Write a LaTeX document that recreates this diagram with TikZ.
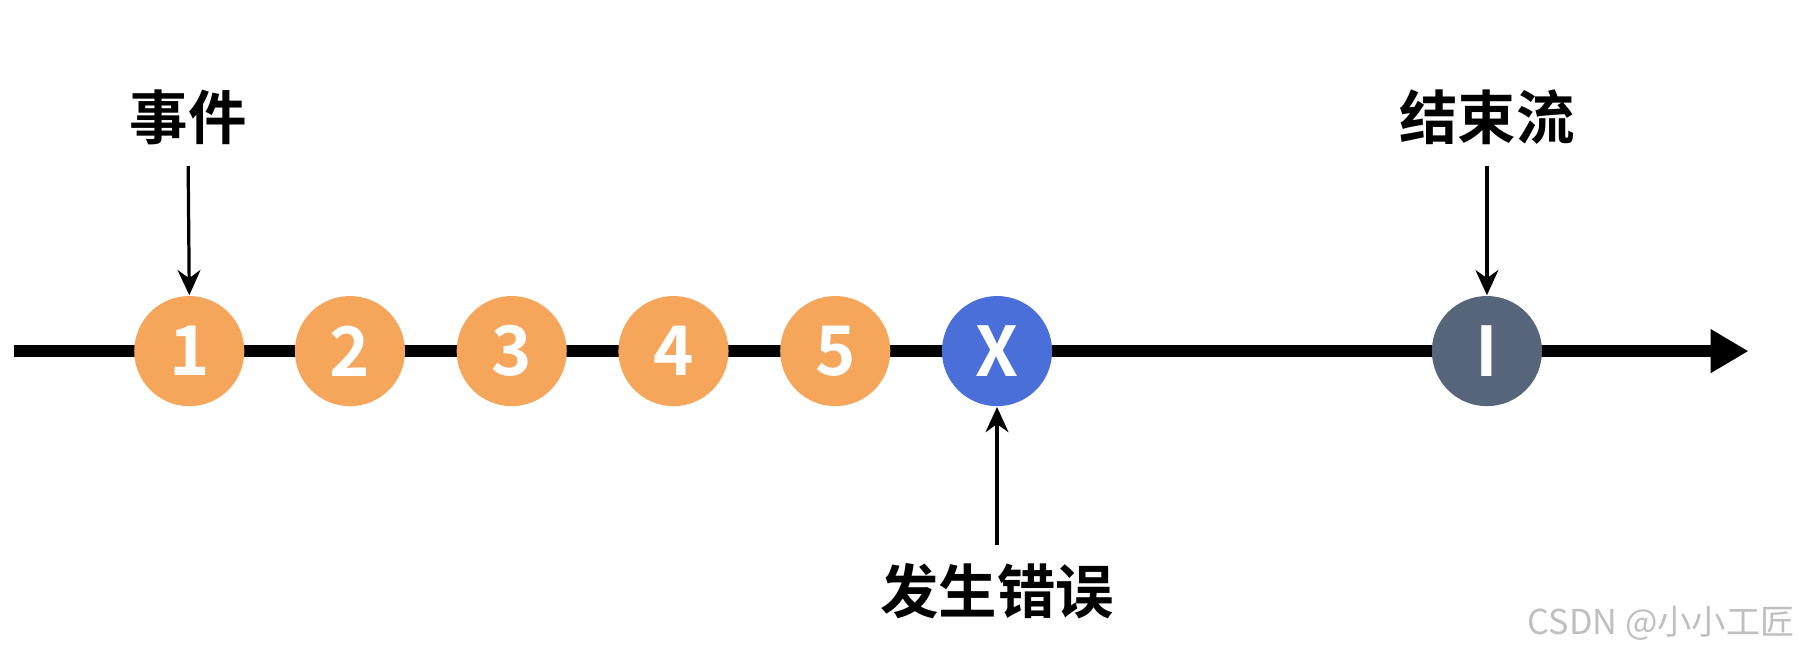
\documentclass[tikz,border=0pt]{standalone}
\usepackage{fontspec}
\setmainfont{Noto Sans CJK SC}[BoldFont={Noto Sans CJK SC Bold}]
\usetikzlibrary{positioning,arrows.meta}
\definecolor{evorange}{HTML}{F5A65B}
\definecolor{everr}{HTML}{4A6FD8}
\definecolor{evend}{HTML}{56657A}
\tikzstyle{evdot}=[circle, minimum size=9.6mm, inner sep=0pt, text=white,
                   font=\fontsize{17}{17}\selectfont\bfseries]
\tikzstyle{evlbl}=[font=\fontsize{14.5}{15}\selectfont\bfseries, inner sep=0pt]
\tikzstyle{pline}=[-{Stealth[length=2.2mm,width=2mm]}, thick]
\begin{document}
\begin{tikzpicture}[x=0.1mm, y=-0.1mm]
\useasboundingbox (0,0) rectangle (1568,570);

\coordinate (START) at (12,306);
\coordinate (END) at (1524,306);
\draw[line width=1mm, -{Triangle[length=3.3mm,width=3.6mm]}] (START) -- (END);

\foreach \i/\x in {1/165,2/305,3/446,4/587,5/728}
  \node (E\i) [evdot, fill=evorange] at (\x,306) {\i};
\node (ERR) [evdot, fill=everr] at (869,306) {X};
\node (FIN) [evdot, fill=evend] at (1296,306) {I};

\node (EVT) [evlbl] at (164,102) {事件};
\node (DONE) [evlbl] at (1296,102) {结束流};
\node (FAIL) [evlbl] at (869,515) {发生错误};

 \draw[pline] (EVT.south) ++(0,18) -- (E1.north);
 \draw[pline] (DONE.south) ++(0,18) -- (FIN.north);
 \draw[pline] (FAIL.north) ++(0,-15) -- (ERR.south);

\node (MARK) [text=black!25, font=\fontsize{8.5}{9}\selectfont] at (1448,543) {CSDN @小小工匠};
\end{tikzpicture}
\end{document}
